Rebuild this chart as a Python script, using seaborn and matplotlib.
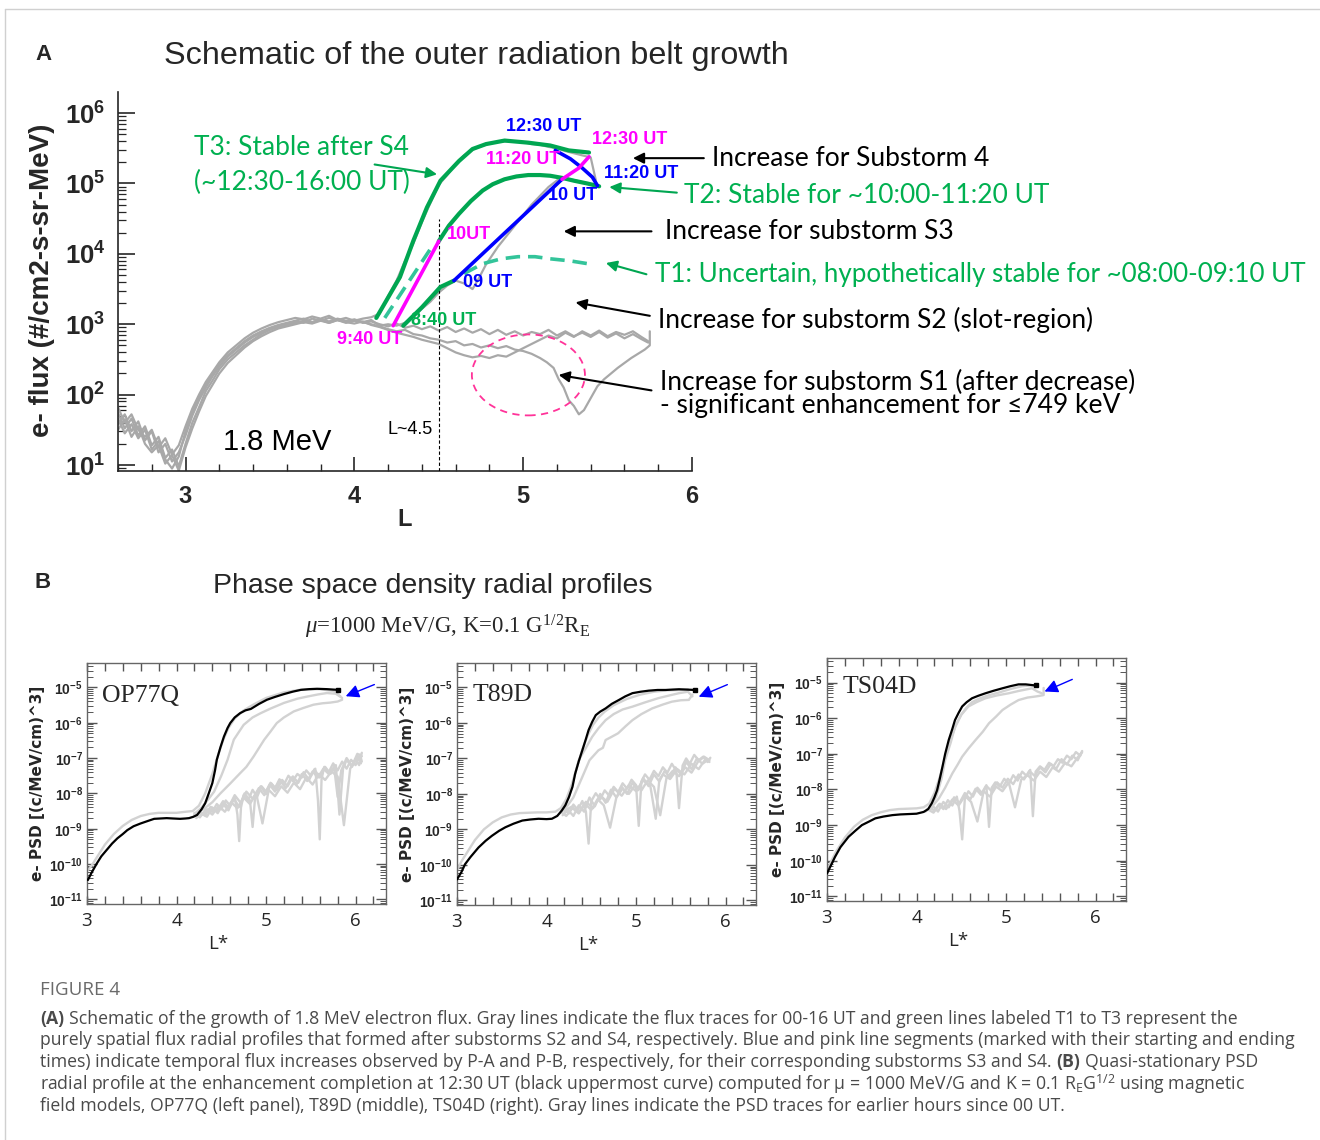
import numpy as np
import pandas as pd
import matplotlib
matplotlib.use("Agg")
import matplotlib.pyplot as plt
import seaborn as sns
from matplotlib.patches import Ellipse
from matplotlib.lines import Line2D
from matplotlib.ticker import FixedLocator, MultipleLocator, LogLocator, NullFormatter, FuncFormatter

# ---------------------------------------------------------------- data (A)
# gray flux traces: L values and log10(flux)
flux_L_left = [2.60, 2.64, 2.68, 2.72, 2.76, 2.80, 2.84, 2.88, 2.92, 2.96, 3.00, 3.04, 3.08, 3.12, 3.16, 3.20, 3.25,
               3.30, 3.35, 3.40, 3.45, 3.50, 3.55, 3.60, 3.65, 3.70, 3.75, 3.80, 3.85, 3.90, 3.95, 4.00, 4.05, 4.10]
trace_a_left = [1.74, 1.52, 1.66, 1.42, 1.55, 1.28, 1.40, 1.10, 1.22, 0.98, 1.30, 1.60, 1.82, 2.05, 2.20, 2.36, 2.50,
                2.60, 2.70, 2.78, 2.86, 2.92, 2.96, 2.99, 3.02, 3.05, 3.03, 3.07, 3.04, 3.08, 3.05, 3.06, 3.02, 3.04]
trace_b_left = [1.58, 1.72, 1.48, 1.62, 1.35, 1.48, 1.18, 1.30, 1.05, 1.18, 1.42, 1.70, 1.92, 2.10, 2.26, 2.40, 2.54,
                2.64, 2.74, 2.82, 2.88, 2.94, 2.97, 3.00, 3.04, 3.02, 3.08, 3.05, 3.09, 3.06, 3.04, 3.07, 3.03, 3.00]
trace_c_left = [1.66, 1.45, 1.58, 1.38, 1.50, 1.22, 1.34, 1.08, 0.95, 1.12, 1.48, 1.75, 1.96, 2.14, 2.30, 2.44, 2.56,
                2.66, 2.76, 2.84, 2.90, 2.95, 2.99, 3.02, 3.05, 3.08, 3.03, 3.06, 3.02, 3.06, 3.03, 3.01, 3.04, 2.99]
trace_d_left = [1.82, 1.60, 1.72, 1.50, 1.40, 1.50, 1.25, 1.38, 1.15, 1.28, 1.55, 1.80, 2.00, 2.18, 2.32, 2.46, 2.60,
                2.70, 2.80, 2.88, 2.94, 2.99, 3.03, 3.06, 3.09, 3.07, 3.11, 3.08, 3.12, 3.06, 3.09, 3.05, 3.08, 3.10]
trace_e_left = [1.50, 1.65, 1.40, 1.55, 1.30, 1.18, 1.28, 1.02, 1.14, 0.92, 1.25, 1.52, 1.76, 1.98, 2.14, 2.30, 2.45,
                2.56, 2.67, 2.76, 2.83, 2.89, 2.94, 2.97, 3.00, 3.03, 3.01, 3.05, 3.02, 3.06, 3.02, 3.05, 3.03, 3.06]

trace_a_L = [4.15, 4.20, 4.25, 4.30, 4.35, 4.40, 4.45, 4.50, 4.55, 4.60, 4.65, 4.70, 4.75, 4.80, 4.85, 4.90, 4.95,
             5.00, 5.05, 5.10, 5.15, 5.20, 5.25, 5.30, 5.35, 5.40, 5.45, 5.50, 5.55, 5.60, 5.65, 5.70, 5.74]
trace_a_F = [3.00, 2.97, 3.01, 2.95, 2.98, 2.93, 2.97, 2.91, 2.96, 2.89, 2.94, 2.88, 2.93, 2.86, 2.92, 2.85, 2.90,
             2.84, 2.89, 2.86, 2.92, 2.84, 2.90, 2.83, 2.88, 2.82, 2.89, 2.81, 2.87, 2.80, 2.86, 2.79, 2.74]
trace_b_L = [4.15, 4.20, 4.25, 4.30, 4.35, 4.40, 4.45, 4.50, 4.55, 4.60, 4.65, 4.70, 4.75, 4.80, 4.85, 4.90, 4.95,
             5.00, 5.05, 5.10, 5.14, 5.18, 5.21, 5.24, 5.27, 5.30, 5.33, 5.36, 5.40, 5.44, 5.48, 5.52, 5.56, 5.60,
             5.64, 5.68, 5.72, 5.75, 5.75]
trace_b_F = [2.97, 2.93, 2.90, 2.92, 2.86, 2.84, 2.80, 2.78, 2.74, 2.76, 2.70, 2.72, 2.67, 2.70, 2.66, 2.69, 2.64,
             2.62, 2.58, 2.52, 2.46, 2.38, 2.22, 2.10, 1.92, 1.84, 1.72, 1.78, 1.95, 2.12, 2.22, 2.30, 2.38, 2.45,
             2.52, 2.58, 2.64, 2.70, 2.90]
trace_c_L = trace_a_L
trace_c_F = [2.96, 2.92, 2.88, 2.85, 2.82, 2.78, 2.75, 2.72, 2.66, 2.60, 2.56, 2.53, 2.55, 2.52, 2.56, 2.54, 2.60,
             2.66, 2.72, 2.78, 2.84, 2.80, 2.88, 2.82, 2.90, 2.84, 2.91, 2.83, 2.89, 2.85, 2.90, 2.82, 2.76]
trace_d_L = [4.15, 4.20, 4.25, 4.30, 4.35, 4.40, 4.45, 4.50, 4.55, 4.60, 4.65, 4.70, 4.75, 4.80, 4.85, 4.90, 4.95,
             5.00, 5.05, 5.10, 5.15, 5.20, 5.25, 5.30, 5.35, 5.40, 5.43]
trace_d_F = [3.15, 3.40, 3.62, 3.90, 4.15, 4.45, 4.72, 4.98, 5.12, 5.28, 5.40, 5.48, 5.53, 5.57, 5.59, 5.60, 5.60,
             5.59, 5.56, 5.55, 5.52, 5.50, 5.46, 5.43, 5.40, 5.37, 5.05]
trace_e_L = [4.15, 4.20, 4.25, 4.30, 4.35, 4.40, 4.45, 4.50, 4.55, 4.60, 4.65, 4.70, 4.73, 4.78, 4.85, 4.95, 5.05,
             5.15, 5.22, 5.30, 5.38, 5.45]
trace_e_F = [2.98, 3.00, 2.98, 3.02, 3.10, 3.22, 3.32, 3.45, 3.55, 3.62, 3.58, 3.50, 3.62, 3.85, 4.10, 4.40, 4.70,
             4.95, 5.08, 5.05, 5.00, 4.95]

# spatial (green) and temporal (blue / pink) profiles, log10(flux)
t3_L = [4.13, 4.20, 4.27, 4.35, 4.43, 4.51, 4.62, 4.70, 4.78, 4.89, 5.03, 5.16, 5.27, 5.39]
t3_F = [3.09, 3.38, 3.67, 4.19, 4.66, 5.04, 5.32, 5.49, 5.56, 5.61, 5.58, 5.54, 5.47, 5.44]
t2_L = [4.50, 4.56, 4.62, 4.69, 4.76, 4.82, 4.89, 4.96, 5.03, 5.10, 5.16, 5.23, 5.30, 5.38, 5.45]
t2_F = [4.18, 4.40, 4.57, 4.75, 4.90, 4.99, 5.06, 5.10, 5.12, 5.12, 5.11, 5.08, 5.04, 5.00, 4.96]
s2_L = [4.29, 4.40, 4.51, 4.59]
s2_F = [2.98, 3.24, 3.53, 3.62]
t1_L = [4.65, 4.76, 4.87, 4.97, 5.07, 5.16, 5.28, 5.41]
t1_F = [3.72, 3.86, 3.93, 3.96, 3.96, 3.93, 3.90, 3.85]
pre_L = [4.18, 4.47]
pre_F = [3.09, 4.14]
pink1_L = [4.23, 4.50]
pink1_F = [2.98, 4.18]
blue1_L = [4.59, 5.23]
blue1_F = [3.62, 5.06]
pink2_L = [5.23, 5.33, 5.39]
pink2_F = [5.06, 5.22, 5.38]
blue2_L = [5.19, 5.28, 5.35, 5.41, 5.44]
blue2_F = [5.47, 5.35, 5.22, 5.09, 4.97]

# ---------------------------------------------------------------- data (B)  log10(PSD)
models = ["OP77Q", "T89D", "TS04D"]
black_L = [
    [3.01, 3.05, 3.11, 3.16, 3.22, 3.28, 3.34, 3.40, 3.45, 3.52, 3.60, 3.68, 3.75, 3.82, 3.89, 3.96, 4.04, 4.10,
     4.14, 4.19, 4.23, 4.28, 4.32, 4.36, 4.40, 4.43, 4.45, 4.49, 4.53, 4.57, 4.60, 4.65, 4.71, 4.77, 4.83, 4.92,
     5.01, 5.10, 5.20, 5.30, 5.39, 5.48, 5.57, 5.68, 5.80],
    [3.00, 3.05, 3.09, 3.15, 3.24, 3.32, 3.39, 3.47, 3.54, 3.63, 3.73, 3.82, 3.91, 4.00, 4.06, 4.12, 4.17, 4.21,
     4.25, 4.29, 4.32, 4.36, 4.40, 4.44, 4.47, 4.51, 4.55, 4.60, 4.66, 4.73, 4.81, 4.88, 4.96, 5.05, 5.14, 5.24,
     5.33, 5.40, 5.48, 5.57, 5.66],
    [3.00, 3.04, 3.09, 3.15, 3.24, 3.32, 3.39, 3.47, 3.54, 3.63, 3.73, 3.82, 3.91, 4.00, 4.08, 4.13, 4.17, 4.20,
     4.23, 4.26, 4.29, 4.32, 4.36, 4.40, 4.43, 4.47, 4.51, 4.56, 4.62, 4.69, 4.77, 4.86, 4.96, 5.05, 5.14, 5.22,
     5.29, 5.33],
]
black_P = [
    [-10.45, -10.25, -9.98, -9.78, -9.60, -9.42, -9.27, -9.15, -9.04, -8.93, -8.85, -8.78, -8.72, -8.71, -8.70,
     -8.71, -8.72, -8.71, -8.70, -8.66, -8.61, -8.45, -8.28, -8.00, -7.71, -7.35, -7.05, -6.70, -6.39, -6.15,
     -6.01, -5.85, -5.73, -5.65, -5.61, -5.47, -5.35, -5.27, -5.19, -5.12, -5.07, -5.05, -5.04, -5.05, -5.07],
    [-10.41, -10.20, -9.98, -9.78, -9.51, -9.32, -9.18, -9.04, -8.94, -8.84, -8.75, -8.72, -8.70, -8.71, -8.70,
     -8.62, -8.47, -8.32, -8.09, -7.80, -7.43, -7.08, -6.77, -6.45, -6.20, -5.97, -5.78, -5.68, -5.59, -5.46,
     -5.35, -5.25, -5.16, -5.12, -5.09, -5.07, -5.07, -5.06, -5.05, -5.06, -5.07],
    [-10.36, -10.15, -9.89, -9.62, -9.33, -9.15, -9.00, -8.90, -8.81, -8.76, -8.72, -8.70, -8.69, -8.68, -8.63,
     -8.55, -8.39, -8.22, -8.02, -7.70, -7.36, -7.00, -6.61, -6.30, -6.05, -5.85, -5.67, -5.55, -5.44, -5.37,
     -5.30, -5.23, -5.16, -5.10, -5.05, -5.05, -5.07, -5.08],
]
grayA_L = [
    [3.00, 3.05, 3.10, 3.20, 3.30, 3.40, 3.50, 3.60, 3.70, 3.80, 3.90, 4.00, 4.10, 4.18, 4.25, 4.32, 4.40, 4.46,
     4.52, 4.58, 4.65, 4.75, 4.85, 5.00, 5.20, 5.40, 5.60, 5.75, 5.83],
    [3.00, 3.05, 3.10, 3.20, 3.30, 3.40, 3.50, 3.60, 3.70, 3.80, 3.90, 4.00, 4.10, 4.16, 4.22, 4.28, 4.34, 4.40,
     4.46, 4.52, 4.58, 4.65, 4.75, 4.90, 5.05, 5.20, 5.35, 5.50, 5.58],
    [3.00, 3.05, 3.10, 3.20, 3.30, 3.40, 3.50, 3.60, 3.70, 3.80, 3.90, 4.00, 4.08, 4.14, 4.20, 4.26, 4.32, 4.38,
     4.44, 4.50, 4.56, 4.62, 4.70, 4.80, 4.92, 5.05, 5.18, 5.28, 5.33],
]
grayA_P = [
    [-10.20, -10.05, -9.85, -9.45, -9.15, -8.92, -8.75, -8.64, -8.58, -8.55, -8.55, -8.55, -8.52, -8.50, -8.35,
     -8.00, -7.45, -6.95, -6.50, -6.15, -5.88, -5.65, -5.50, -5.30, -5.14, -5.06, -5.05, -5.10, -5.25],
    [-10.15, -9.90, -9.70, -9.30, -9.00, -8.80, -8.66, -8.58, -8.54, -8.53, -8.52, -8.52, -8.50, -8.40, -8.15,
     -7.75, -7.25, -6.75, -6.35, -6.05, -5.85, -5.68, -5.50, -5.32, -5.20, -5.12, -5.08, -5.07, -5.05],
    [-10.25, -10.00, -9.75, -9.35, -9.05, -8.85, -8.72, -8.64, -8.58, -8.55, -8.54, -8.53, -8.50, -8.40, -8.10,
     -7.65, -7.10, -6.60, -6.20, -5.90, -5.70, -5.55, -5.45, -5.36, -5.28, -5.18, -5.10, -5.08, -5.12],
]
grayB_L = [
    [4.20, 4.28, 4.36, 4.42, 4.50, 4.57, 4.64, 4.70, 4.75, 4.85, 4.94, 5.05, 5.20, 5.35, 5.46, 5.58, 5.68, 5.78, 5.85],
    [4.17, 4.25, 4.36, 4.44, 4.51, 4.58, 4.66, 4.75, 4.85, 4.96, 5.10, 5.25, 5.38, 5.48, 5.58, 5.63],
    [4.15, 4.22, 4.28, 4.32, 4.38, 4.43, 4.50, 4.58, 4.67, 4.77, 4.90, 5.03, 5.15, 5.29, 5.35, 5.40],
]
grayB_P = [
    [-8.58, -8.40, -8.15, -7.95, -7.50, -7.05, -6.48, -6.25, -6.06, -5.85, -5.73, -5.60, -5.44, -5.32, -5.26,
     -5.20, -5.16, -5.18, -5.30],
    [-8.47, -8.10, -7.05, -6.70, -6.39, -6.15, -5.92, -5.75, -5.62, -5.54, -5.42, -5.30, -5.22, -5.16, -5.12, -5.25],
    [-8.50, -8.20, -7.70, -7.17, -6.70, -6.24, -5.90, -5.67, -5.55, -5.44, -5.36, -5.30, -5.23, -5.16, -5.25, -5.30],
]
grayC_L = [
    [4.20, 4.30, 4.40, 4.49, 4.60, 4.71, 4.78, 4.86, 4.92, 4.98, 5.05, 5.12, 5.20, 5.31, 5.42, 5.53, 5.63, 5.72,
     5.80, 5.85],
    [4.20, 4.30, 4.40, 4.48, 4.58, 4.63, 4.66, 4.72, 4.80, 4.88, 4.96, 5.06, 5.18, 5.30, 5.40, 5.50, 5.59, 5.63],
    [4.15, 4.25, 4.32, 4.40, 4.46, 4.51, 4.58, 4.66, 4.74, 4.81, 4.89, 4.96, 5.05, 5.14, 5.24, 5.33, 5.38, 5.42, 5.42],
]
grayC_P = [
    [-8.60, -8.45, -8.25, -8.00, -7.72, -7.43, -7.25, -6.96, -6.72, -6.48, -6.25, -6.01, -5.85, -5.68, -5.58,
     -5.49, -5.45, -5.43, -5.40, -5.35],
    [-8.45, -8.10, -7.52, -7.05, -6.77, -6.70, -6.48, -6.40, -6.29, -6.10, -5.92, -5.75, -5.59, -5.48, -5.40,
     -5.36, -5.35, -5.20],
    [-8.55, -8.25, -7.95, -7.55, -7.30, -7.08, -6.85, -6.61, -6.38, -6.14, -5.95, -5.77, -5.62, -5.49, -5.42,
     -5.39, -5.37, -5.35, -5.15],
]
noisy_L = [
    [[4.20, 4.25, 4.30, 4.35, 4.40, 4.45, 4.50, 4.55, 4.60, 4.65, 4.68, 4.70, 4.72, 4.75, 4.80, 4.85, 4.90, 4.95,
      5.00, 5.05, 5.10, 5.15, 5.20, 5.25, 5.30, 5.35, 5.40, 5.45, 5.50, 5.55, 5.58, 5.60, 5.62, 5.65, 5.70, 5.75,
      5.80, 5.85, 5.90, 5.95, 6.00, 6.05, 6.07],
     [4.22, 4.28, 4.34, 4.40, 4.46, 4.52, 4.58, 4.64, 4.70, 4.76, 4.82, 4.85, 4.88, 4.94, 5.00, 5.06, 5.12, 5.18,
      5.24, 5.30, 5.36, 5.42, 5.48, 5.54, 5.60, 5.66, 5.72, 5.78, 5.82, 5.86, 5.90, 5.96, 6.02, 6.06],
     [4.25, 4.32, 4.38, 4.45, 4.52, 4.58, 4.65, 4.72, 4.78, 4.85, 4.92, 4.98, 5.04, 5.10, 5.16, 5.22, 5.28, 5.34,
      5.40, 5.46, 5.52, 5.58, 5.64, 5.70, 5.76, 5.80, 5.84, 5.90, 5.96, 6.02, 6.07],
     [4.20, 4.26, 4.33, 4.40, 4.47, 4.54, 4.61, 4.68, 4.75, 4.82, 4.89, 4.96, 5.03, 5.10, 5.17, 5.24, 5.31, 5.38,
      5.45, 5.52, 5.59, 5.66, 5.73, 5.80, 5.87, 5.94, 6.00, 6.04, 6.07]],
    [[4.15, 4.20, 4.25, 4.30, 4.35, 4.40, 4.44, 4.47, 4.50, 4.55, 4.60, 4.65, 4.70, 4.75, 4.80, 4.85, 4.90, 4.95,
      5.00, 5.03, 5.06, 5.10, 5.15, 5.20, 5.25, 5.30, 5.35, 5.40, 5.45, 5.48, 5.52, 5.56, 5.60, 5.65, 5.70, 5.75,
      5.80, 5.83],
     [4.18, 4.24, 4.30, 4.36, 4.42, 4.48, 4.54, 4.60, 4.66, 4.72, 4.78, 4.84, 4.90, 4.96, 5.02, 5.08, 5.14, 5.20,
      5.26, 5.32, 5.38, 5.44, 5.50, 5.56, 5.62, 5.68, 5.74, 5.80],
     [4.20, 4.28, 4.36, 4.44, 4.52, 4.60, 4.68, 4.76, 4.84, 4.92, 5.00, 5.08, 5.16, 5.22, 5.26, 5.30, 5.38, 5.46,
      5.54, 5.62, 5.70, 5.78, 5.82],
     [4.16, 4.22, 4.29, 4.36, 4.43, 4.50, 4.57, 4.64, 4.71, 4.78, 4.85, 4.92, 4.99, 5.06, 5.13, 5.20, 5.27, 5.34,
      5.41, 5.48, 5.55, 5.62, 5.69, 5.76, 5.82]],
    [[4.10, 4.15, 4.20, 4.25, 4.30, 4.35, 4.40, 4.45, 4.48, 4.51, 4.54, 4.58, 4.63, 4.68, 4.73, 4.78, 4.81, 4.84,
      4.88, 4.93, 4.98, 5.03, 5.08, 5.13, 5.18, 5.23, 5.27, 5.30, 5.33, 5.38, 5.43, 5.48, 5.53, 5.58, 5.63, 5.68,
      5.73, 5.78, 5.83, 5.85],
     [4.12, 4.18, 4.24, 4.30, 4.36, 4.42, 4.48, 4.54, 4.60, 4.66, 4.72, 4.78, 4.84, 4.90, 4.96, 5.02, 5.08, 5.14,
      5.20, 5.26, 5.32, 5.38, 5.44, 5.50, 5.56, 5.62, 5.68, 5.74, 5.80, 5.84],
     [4.12, 4.19, 4.26, 4.33, 4.40, 4.47, 4.54, 4.61, 4.68, 4.75, 4.82, 4.89, 4.96, 5.03, 5.10, 5.17, 5.24, 5.31,
      5.38, 5.45, 5.52, 5.59, 5.66, 5.73, 5.80, 5.85]],
]
noisy_P = [
    [[-8.62, -8.55, -8.60, -8.45, -8.52, -8.30, -8.45, -8.20, -8.35, -8.10, -8.60, -9.35, -8.40, -8.05, -8.20,
      -7.90, -8.10, -7.80, -7.95, -7.70, -7.85, -7.60, -7.75, -7.50, -7.65, -7.45, -7.55, -7.35, -7.50, -7.30,
      -8.20, -9.30, -7.60, -7.25, -7.40, -7.15, -7.35, -7.10, -7.30, -7.05, -7.20, -6.90, -7.10],
     [-8.70, -8.58, -8.66, -8.40, -8.56, -8.30, -8.48, -8.15, -8.38, -8.00, -8.20, -8.95, -8.05, -7.80, -8.02,
      -7.72, -7.90, -7.62, -7.80, -7.52, -7.70, -7.40, -7.62, -7.32, -7.55, -7.25, -7.45, -7.20, -8.60, -7.30,
      -7.05, -7.25, -6.95, -7.15],
     [-8.50, -8.62, -8.38, -8.50, -8.22, -8.40, -8.05, -8.28, -7.95, -8.15, -7.85, -8.05, -7.75, -7.95, -7.65,
      -7.85, -7.55, -7.75, -7.45, -7.65, -7.38, -7.55, -7.30, -7.45, -7.25, -8.10, -7.35, -7.00, -7.22, -6.88,
      -6.95],
     [-8.55, -8.68, -8.45, -8.60, -8.35, -8.52, -8.25, -8.42, -8.12, -8.30, -8.00, -8.85, -7.90, -8.08, -7.80,
      -7.98, -7.70, -7.88, -7.55, -7.75, -7.45, -7.62, -7.38, -7.52, -8.90, -7.30, -7.05, -7.20, -6.85]],
    [[-8.55, -8.42, -8.55, -8.30, -8.45, -8.20, -8.50, -9.40, -8.20, -7.98, -8.15, -7.90, -8.05, -7.80, -7.95,
      -7.70, -7.85, -7.60, -7.75, -8.90, -7.65, -7.45, -7.60, -7.35, -7.50, -7.25, -7.40, -7.15, -7.35, -8.40,
      -7.20, -7.00, -7.15, -6.90, -7.05, -6.95, -7.10, -6.98],
     [-8.60, -8.45, -8.62, -8.32, -8.50, -8.10, -8.35, -8.00, -8.25, -7.88, -8.10, -7.80, -8.00, -7.68, -7.90,
      -7.55, -7.78, -7.45, -7.65, -7.35, -7.55, -7.25, -7.45, -7.10, -7.30, -7.00, -7.15, -7.05],
     [-8.48, -8.36, -8.52, -8.22, -8.40, -8.05, -8.22, -7.85, -8.05, -7.75, -7.92, -7.62, -7.78, -8.70, -7.60,
      -7.45, -7.58, -7.30, -7.45, -7.15, -7.30, -7.00, -7.10],
     [-8.50, -8.62, -8.40, -8.55, -8.28, -8.45, -8.15, -8.32, -8.95, -8.10, -7.85, -8.00, -7.75, -7.90, -7.62,
      -7.80, -8.60, -7.55, -7.35, -7.50, -7.25, -7.40, -7.10, -6.95, -7.05]],
    [[-8.62, -8.50, -8.60, -8.42, -8.55, -8.30, -8.45, -8.20, -8.60, -9.40, -8.25, -8.05, -8.20, -7.95, -8.10,
      -7.88, -9.05, -7.95, -7.80, -7.92, -7.70, -7.85, -7.60, -7.75, -7.50, -7.62, -7.45, -8.75, -7.50, -7.35,
      -7.45, -7.25, -7.35, -7.15, -7.25, -7.05, -7.15, -6.95, -7.05, -6.92],
     [-8.58, -8.46, -8.62, -8.35, -8.50, -8.22, -8.38, -8.10, -8.28, -7.98, -8.15, -7.90, -8.05, -7.80, -7.95,
      -7.70, -7.85, -7.58, -7.72, -7.48, -7.62, -7.38, -7.52, -7.28, -7.42, -7.15, -7.30, -7.05, -7.18, -6.98],
     [-8.55, -8.65, -8.40, -8.55, -8.28, -8.45, -8.18, -8.35, -8.90, -8.05, -8.20, -7.92, -8.05, -7.80, -8.50,
      -7.72, -7.60, -7.75, -7.50, -7.65, -7.38, -7.50, -7.25, -7.35, -7.10, -6.95]],
]

# ---------------------------------------------------------------- style
sns.set_theme(style="ticks")
plt.rcParams["font.family"] = ["Liberation Sans", "DejaVu Sans"]
plt.rcParams["mathtext.fontset"] = "custom"
plt.rcParams["mathtext.rm"] = "Liberation Serif"
plt.rcParams["mathtext.it"] = "Liberation Serif:italic"
plt.rcParams["mathtext.bf"] = "Liberation Sans:bold"
plt.rcParams["axes.linewidth"] = 1.2

W, H = 1320, 1140
fig = plt.figure(figsize=(W / 100, H / 100), dpi=100)
fig.patch.set_facecolor("white")


def fx(px):
    return px / W


def fy(py):
    return 1 - py / H


GRAY = "#a8a8a8"
GREEN = "#00a651"
GREEN_T = "#00b050"
DGREEN = "#33c49a"
MAG = "#ff00ff"
BLUE = "#0000ff"
LGRAY = "#d2d2d2"
NARROW = ["Liberation Sans Narrow", "Liberation Sans"]
CAL = ["Lato", "DejaVu Sans"]

# thin frame of the page
fig.add_artist(Line2D([fx(5), fx(5)], [fy(9), 0], color="#d0d0d0", lw=1.0))
fig.add_artist(Line2D([fx(5), 1], [fy(9), fy(9)], color="#d0d0d0", lw=1.0))

# ================================================================ panel A
axA = fig.add_axes([fx(118), fy(471), (692 - 118) / W, (471 - 92) / H])
axA.set_yscale("log")

rows = []
gray_sets = [
    (flux_L_left + trace_a_L, trace_a_left + trace_a_F),
    (flux_L_left + trace_b_L, trace_b_left + trace_b_F),
    (flux_L_left + trace_c_L, trace_c_left + trace_c_F),
    (flux_L_left + trace_d_L, trace_d_left + trace_d_F),
    (flux_L_left + trace_e_L, trace_e_left + trace_e_F),
]
for k, (lv, fv) in enumerate(gray_sets):
    for l_, f_ in zip(lv, fv):
        rows.append({"trace": k, "L": l_, "flux": 10 ** f_})
df_gray = pd.DataFrame(rows)
sns.lineplot(data=df_gray, x="L", y="flux", units="trace", estimator=None, sort=False,
             color=GRAY, lw=1.6, ax=axA, zorder=2)


def prof(L, F, **kw):
    d = pd.DataFrame({"L": L, "flux": 10 ** np.array(F)})
    sns.lineplot(data=d, x="L", y="flux", sort=False, estimator=None, ax=axA, **kw)


prof(t3_L, t3_F, color=GREEN, lw=3.0, zorder=4)
prof(t2_L, t2_F, color=GREEN, lw=3.0, zorder=4)
prof(s2_L, s2_F, color=GREEN, lw=3.0, zorder=4)
prof(pre_L, pre_F, color=DGREEN, lw=2.6, zorder=4, dashes=(4, 2.2))
prof(t1_L, t1_F, color=DGREEN, lw=2.6, zorder=4, dashes=(4, 2.2))
prof(pink1_L, pink1_F, color=MAG, lw=2.6, zorder=5)
prof(blue1_L, blue1_F, color=BLUE, lw=2.6, zorder=5)
prof(blue2_L, blue2_F, color=BLUE, lw=2.6, zorder=5)
prof(pink2_L, pink2_F, color=MAG, lw=2.6, zorder=6)

y0, y1 = 10 ** 0.915, 10 ** 6.30
axA.plot([4.5, 4.5], [y0, 10 ** 4.5], color="black", lw=0.8, ls=(0, (3, 2)), zorder=3)
axA.add_patch(Ellipse((0.715, 0.2535), 0.197, 0.2136, transform=axA.transAxes, fill=False,
                      ec="#ff3399", lw=1.3, ls=(0, (4, 3)), zorder=3))

axA.set_xlim(2.60, 6.0)
axA.set_ylim(y0, y1)
axA.set_xlabel("")
axA.set_ylabel("")
for s in ["top", "right"]:
    axA.spines[s].set_visible(False)
axA.xaxis.set_major_locator(FixedLocator([3, 4, 5, 6]))
axA.xaxis.set_minor_locator(MultipleLocator(0.2))
axA.yaxis.set_major_locator(FixedLocator([1e1, 1e2, 1e3, 1e4, 1e5, 1e6]))
axA.yaxis.set_minor_locator(LogLocator(base=10, subs=np.arange(2, 10)))
axA.yaxis.set_minor_formatter(NullFormatter())
axA.yaxis.set_major_formatter(FuncFormatter(lambda v, p: r"$\mathbf{10^{%d}}$" % round(np.log10(v))))
axA.tick_params(axis="x", which="major", direction="in", length=10, width=1.2, labelsize=17, pad=10)
axA.tick_params(axis="x", which="minor", direction="in", length=5, width=1.0)
axA.tick_params(axis="y", which="major", direction="in", length=12, width=1.2, labelsize=18.5, pad=9)
axA.tick_params(axis="y", which="minor", direction="in", length=6, width=0.9)
for lb in axA.get_xticklabels():
    lb.set_fontweight("bold")
axA.text(0.5, -0.129, "L", transform=axA.transAxes, ha="center", va="center", fontsize=17, fontweight="bold")
axA.text(-0.132, 0.504, "e- flux (#/cm2-s-sr-MeV)", transform=axA.transAxes, rotation=90,
         ha="center", va="center", fontsize=20, fontweight="bold")


def lab(x, y, s, color, size=13, weight="bold", family=NARROW, ha="center"):
    axA.text(x, 10 ** y, s, color=color, fontsize=size, fontweight=weight, family=family,
             ha=ha, va="center", clip_on=False, zorder=7)


lab(5.12, 5.81, "12:30 UT", BLUE)
lab(5.63, 5.63, "12:30 UT", MAG)
lab(5.00, 5.34, "11:20 UT", MAG)
lab(5.70, 5.14, "11:20 UT", BLUE)
lab(5.29, 4.83, "10 UT", BLUE)
lab(4.68, 4.28, "10UT", MAG)
lab(4.79, 3.59, "09 UT", BLUE)
lab(4.53, 3.06, "8:40 UT", GREEN_T)
lab(4.09, 2.78, "9:40 UT", MAG)
lab(4.33, 1.50, "L~4.5", "black", size=13, weight="normal")
lab(3.54, 1.32, "1.8 MeV", "black", size=21, weight="normal")

big = 19
lab(3.05, 5.51, "T3: Stable after S4", GREEN_T, size=big, weight="normal", family=CAL, ha="left")
lab(3.05, 5.01, "(~12:30-16:00 UT)", GREEN_T, size=big, weight="normal", family=CAL, ha="left")
lab(6.12, 5.36, "Increase for Substorm 4", "black", size=big, weight="normal", family=CAL, ha="left")
lab(5.95, 4.83, "T2: Stable for ~10:00-11:20 UT", GREEN_T, size=big, weight="normal", family=CAL, ha="left")
lab(5.84, 4.32, "Increase for substorm S3", "black", size=big, weight="normal", family=CAL, ha="left")
lab(5.78, 3.71, "T1: Uncertain, hypothetically stable for ~08:00-09:10 UT", GREEN_T, size=big - 0.3,
    weight="normal", family=CAL, ha="left")
lab(5.80, 3.06, "Increase for substorm S2 (slot-region)", "black", size=big, weight="normal", family=CAL, ha="left")
lab(5.81, 2.17, "Increase for substorm S1 (after decrease)", "black", size=big, weight="normal", family=CAL,
    ha="left")
lab(5.81, 1.84, "- significant enhancement for \u2264749 keV", "black", size=big, weight="normal", family=CAL,
    ha="left")


def arrow(x0, f0, x1, f1, color):
    axA.annotate("", xy=(x1, 10 ** f1), xytext=(x0, 10 ** f0), annotation_clip=False,
                 arrowprops=dict(arrowstyle="-|>", color=color, lw=1.5, mutation_scale=16,
                                 shrinkA=0, shrinkB=0), zorder=7)


arrow(4.12, 5.27, 4.49, 5.13, GREEN)
arrow(6.07, 5.36, 5.65, 5.36, "black")
arrow(5.91, 4.87, 5.51, 4.95, GREEN)
arrow(5.76, 4.32, 5.24, 4.32, "black")
arrow(5.73, 3.71, 5.49, 3.87, GREEN)
arrow(5.75, 3.12, 5.31, 3.31, "black")
arrow(5.76, 2.06, 5.21, 2.28, "black")

fig.text(fx(44), fy(55), "A", fontsize=16, fontweight="bold", ha="center", va="center")
fig.text(fx(164), fy(56), "Schematic of the outer radiation belt growth", fontsize=23.3, ha="left", va="center")

# ================================================================ panel B
fig.text(fx(43), fy(582), "B", fontsize=16, fontweight="bold", ha="center", va="center")
fig.text(fx(213), fy(586), "Phase space density radial profiles", fontsize=20.5, ha="left", va="center")
fig.text(fx(305), fy(627), r"$\mu$=1000 MeV/G, K=0.1 G$^{1/2}$R$_{\rm E}$", fontsize=16.5,
         family=["Liberation Serif"], ha="left", va="center")

boxes = [(87, 386, 663, 904), (457, 756, 663, 905), (827, 1126, 658, 901)]
arrows_b = [((6.21, -4.92), (5.89, -5.25)), ((6.02, -4.92), (5.70, -5.26)), ((5.74, -4.91), (5.43, -5.25))]
label_y = [-5.23, -5.21, -5.11]
for i, (l, r, t, b) in enumerate(boxes):
    ax = fig.add_axes([fx(l), fy(b), (r - l) / W, (b - t) / H])
    ax.set_yscale("log")
    rows = []
    k = 0
    for nl, npv in zip(noisy_L[i], noisy_P[i]):
        for a, c in zip(nl, npv):
            rows.append({"tr": k, "L": a, "psd": 10 ** c})
        k += 1
    for gl, gp in [(grayA_L[i], grayA_P[i]), (grayB_L[i], grayB_P[i]), (grayC_L[i], grayC_P[i])]:
        for a, c in zip(gl, gp):
            rows.append({"tr": k, "L": a, "psd": 10 ** c})
        k += 1
    dfg = pd.DataFrame(rows)
    sns.lineplot(data=dfg, x="L", y="psd", units="tr", estimator=None, sort=False, color=LGRAY, lw=1.7,
                 ax=ax, zorder=2)
    dfb = pd.DataFrame({"L": black_L[i], "psd": 10 ** np.array(black_P[i])})
    sns.lineplot(data=dfb, x="L", y="psd", estimator=None, sort=False, color="black", lw=1.6, ax=ax, zorder=3)
    ax.plot(black_L[i][-1], 10 ** black_P[i][-1], "s", color="black", ms=3, zorder=3)
    (ta, tb), (ha_, hb) = arrows_b[i]
    ax.annotate("", xy=(ha_, 10 ** hb), xytext=(ta, 10 ** tb), annotation_clip=False,
                arrowprops=dict(arrowstyle="-|>", color=BLUE, lw=1.0, mutation_scale=20, shrinkA=0, shrinkB=0))
    ax.text(3.17, 10 ** label_y[i], models[i], family=["Liberation Serif"], fontsize=18.5, ha="left", va="center")
    ax.set_xlim(3.0, 6.34)
    ax.set_ylim(10 ** -11.13, 10 ** -4.31)
    ax.set_xlabel("")
    ax.set_ylabel("")
    for s in ax.spines.values():
        s.set_color("#666666")
        s.set_linewidth(1.0)
    ax.xaxis.set_major_locator(FixedLocator([3, 4, 5, 6]))
    ax.xaxis.set_minor_locator(MultipleLocator(0.2))
    ax.yaxis.set_major_locator(FixedLocator([10.0 ** e for e in range(-11, -4)]))
    ax.yaxis.set_minor_locator(LogLocator(base=10, subs=np.arange(2, 10)))
    ax.yaxis.set_minor_formatter(NullFormatter())
    ax.yaxis.set_major_formatter(FuncFormatter(lambda v, p: r"$\mathbf{10^{%d}}$" % round(np.log10(v))))
    ax.tick_params(which="both", direction="in", top=True, right=True, color="#555555")
    ax.tick_params(axis="x", which="major", length=6, width=1.0, labelsize=13.5, pad=6)
    ax.tick_params(axis="x", which="minor", length=6, width=1.0)
    ax.tick_params(axis="y", which="major", length=7, width=1.0, labelsize=10, pad=3)
    ax.tick_params(axis="y", which="minor", length=4, width=0.7)
    for lb in ax.get_xticklabels():
        lb.set_family(["Open Sans", "DejaVu Sans"])
    ax.text(0.44, -0.165, "L*", transform=ax.transAxes, family=["Open Sans", "DejaVu Sans"], fontsize=13.5,
            ha="center", va="center")
    ax.text(-0.165, 0.5, "e- PSD [(c/MeV/cm)^3]", transform=ax.transAxes, rotation=90, fontsize=11,
            fontweight="bold", family=["DejaVu Sans"], ha="center", va="center")

# ================================================================ caption
CAP = ["Open Sans", "DejaVu Sans"]
cs = 12.7
ccol = "#4a4a4a"
fig.text(fx(40), fy(990), "FIGURE 4", family=CAP, fontsize=13.5, color="#6a6a6a", ha="left", va="center")


def chain(prev, s, bold=False, gap=3.4):
    return axA.annotate(s, xy=(1, 0), xycoords=prev, xytext=(gap, 0), textcoords="offset points",
                        va="bottom", ha="left", family=CAP, fontsize=cs, color=ccol,
                        fontweight="bold" if bold else "normal", annotation_clip=False)


t = fig.text(fx(40), fy(1019), "(A)", family=CAP, fontsize=cs, color=ccol, fontweight="bold", ha="left",
             va="center")
chain(t, "Schematic of the growth of 1.8 MeV electron flux. Gray lines indicate the flux traces for 00-16 UT "
         "and green lines labeled T1 to T3 represent the")
fig.text(fx(40), fy(1040), "purely spatial flux radial profiles that formed after substorms S2 and S4, respectively. "
                           "Blue and pink line segments (marked with their starting and ending",
         family=CAP, fontsize=cs, color=ccol, ha="left", va="center")
t = fig.text(fx(40), fy(1062), "times) indicate temporal flux increases observed by P-A and P-B, respectively, "
                               "for their corresponding substorms S3 and S4.",
             family=CAP, fontsize=cs, color=ccol, ha="left", va="center")
t = chain(t, "(B)", bold=True)
chain(t, "Quasi-stationary PSD")
fig.text(fx(40), fy(1084), "radial profile at the enhancement completion at 12:30 UT (black uppermost curve) computed "
                           "for \u03bc = 1000 MeV/G and K = 0.1 R$_\\mathregular{E}$G$^\\mathregular{1/2}$ using magnetic",
         family=CAP, fontsize=cs, color=ccol, ha="left", va="center")
fig.text(fx(40), fy(1106), "field models, OP77Q (left panel), T89D (middle), TS04D (right). Gray lines indicate the "
                           "PSD traces for earlier hours since 00 UT.",
         family=CAP, fontsize=cs, color=ccol, ha="left", va="center")

fig.savefig("out.png", dpi=100, facecolor="white")
